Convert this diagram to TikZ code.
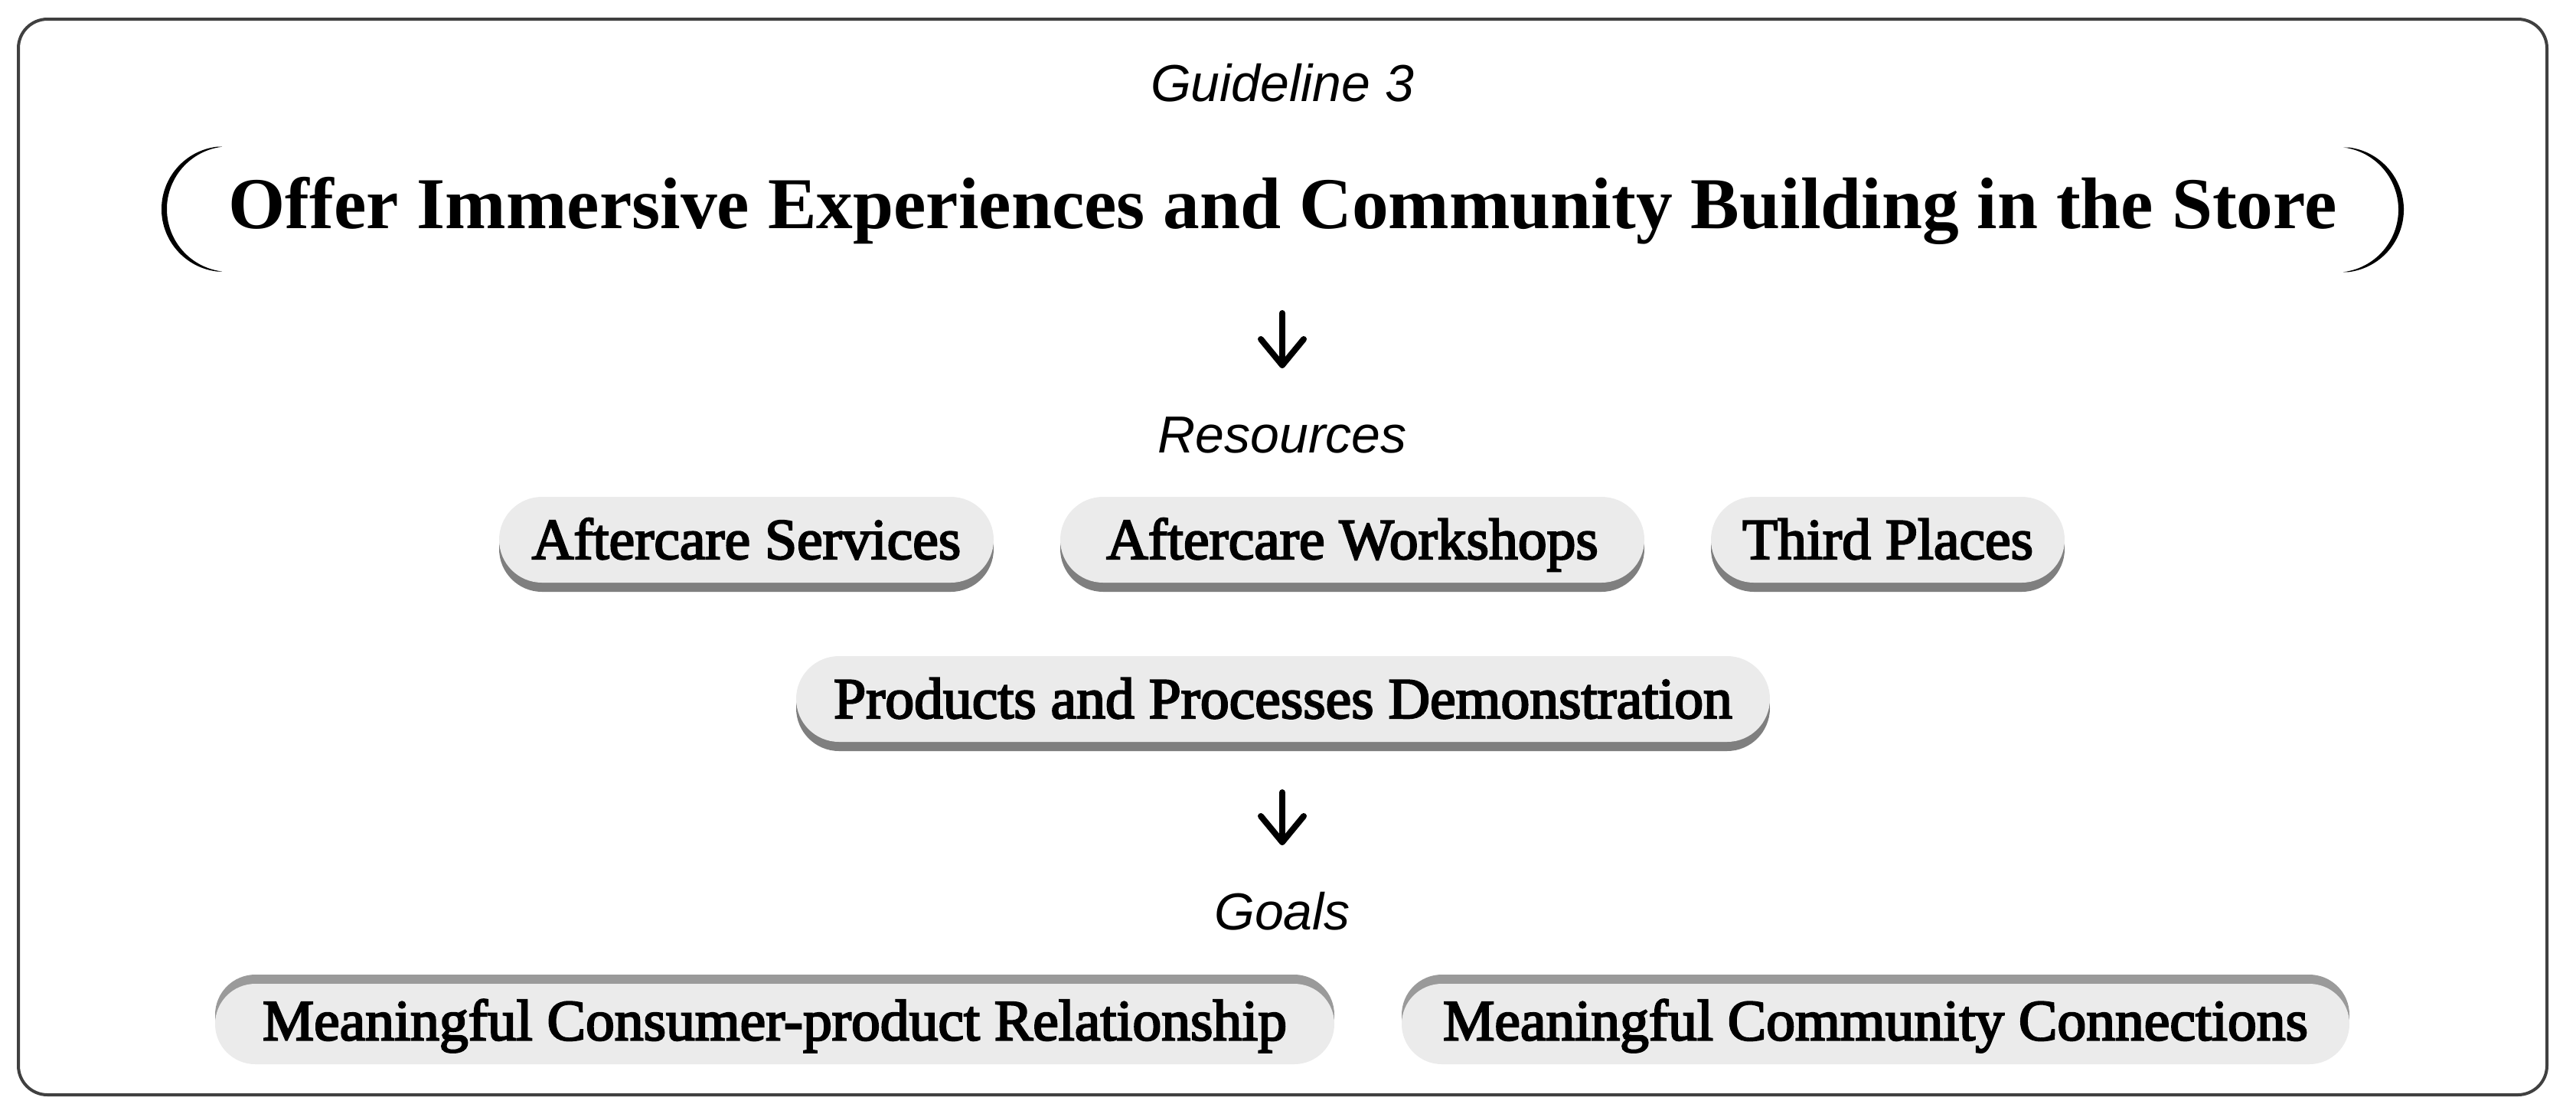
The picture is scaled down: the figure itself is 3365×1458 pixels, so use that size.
\documentclass[tikz,border=0pt]{standalone}
\usepackage{fontspec}
\setmainfont{Liberation Serif}
\newfontfamily\pillfont{Liberation Serif}[FakeBold=3]
\newfontfamily\labelfont{Liberation Sans}
\usetikzlibrary{shapes.misc,shadows}
\definecolor{pillfill}{HTML}{EBEBEB}
\definecolor{shadowA}{HTML}{7F7F7F}
\definecolor{shadowB}{HTML}{9A9A9A}
\definecolor{framecol}{HTML}{404040}
\begin{document}
\begin{tikzpicture}[x=0.25pt,y=-0.25pt,
  pill/.style={rounded rectangle, fill=pillfill, minimum height=28pt, text height=12.5pt, text depth=0pt, inner sep=0pt,
    font=\pillfont\fontsize{18.9pt}{22pt}\selectfont},
  rpill/.style={pill, drop shadow={shadow xshift=0pt, shadow yshift=-3pt, opacity=1, fill=shadowA}},
  gpill/.style={pill, minimum height=26.25pt, text depth=2pt, drop shadow={shadow xshift=0pt, shadow yshift=3pt, opacity=1, fill=shadowB}},
  lbl/.style={font=\labelfont\itshape\fontsize{17pt}{20pt}\selectfont, anchor=base, inner sep=0pt},
  ttl/.style={font=\bfseries\fontsize{23.85pt}{28pt}\selectfont, anchor=base, inner sep=0pt},
  arrowline/.style={line width=2pt, line cap=round, line join=round},
  paren/.style={fill=black}
]
\fill[white] (0,0) rectangle (3365,1458);
\useasboundingbox (0,0) rectangle (3365,1458);
% frame
\draw[framecol, line width=1pt, rounded corners=9.5pt] (24,25) rectangle (3327,1430);

% header
\node[lbl] (guide) at (1675,132) {Guideline 3};
\node[ttl] (title) at (1675.5,298) {Offer Immersive Experiences and Community Building in the Store};
% brackets round the title
\fill[paren] (283,354.5) arc[start angle=97,end angle=263,radius=82] -- ++(7,0) arc[start angle=263,end angle=97,radius=82] -- cycle;
\fill[paren] (3068,192.5) arc[start angle=-83,end angle=83,radius=82] -- ++(-7,0) arc[start angle=83,end angle=-83,radius=82] -- cycle;

% arrow 1
\coordinate (a1s) at (1675,409);
\coordinate (a1e) at (1675,477);
\draw[arrowline] (a1s) -- (a1e);
\draw[arrowline] ([shift={(-28,-34)}]a1e) -- (a1e) -- ([shift={(28,-34)}]a1e);

\node[lbl] (res) at (1675,591) {Resources};

% resources
\node[rpill, minimum width=161.5pt] (as) at (975,705) {Aftercare Services};
\node[rpill, minimum width=190.75pt] (aw) at (1766.5,705) {Aftercare Workshops};
\node[rpill, minimum width=115.5pt] (tp) at (2466,705) {Third Places};
\node[rpill, minimum width=318pt] (pp) at (1676,913) {Products and Processes Demonstration};

% arrow 2
\coordinate (a2s) at (1675,1035);
\coordinate (a2e) at (1675,1100);
\draw[arrowline] (a2s) -- (a2e);
\draw[arrowline] ([shift={(-28,-34)}]a2e) -- (a2e) -- ([shift={(28,-34)}]a2e);

\node[lbl] (goals) at (1675,1214) {Goals};

% goals
\node[gpill, minimum width=365.5pt] (g1) at (1012,1337.5) {Meaningful Consumer-product Relationship};
\node[gpill, minimum width=309.5pt] (g2) at (2450,1337.5) {Meaningful Community Connections};
\end{tikzpicture}
\end{document}
